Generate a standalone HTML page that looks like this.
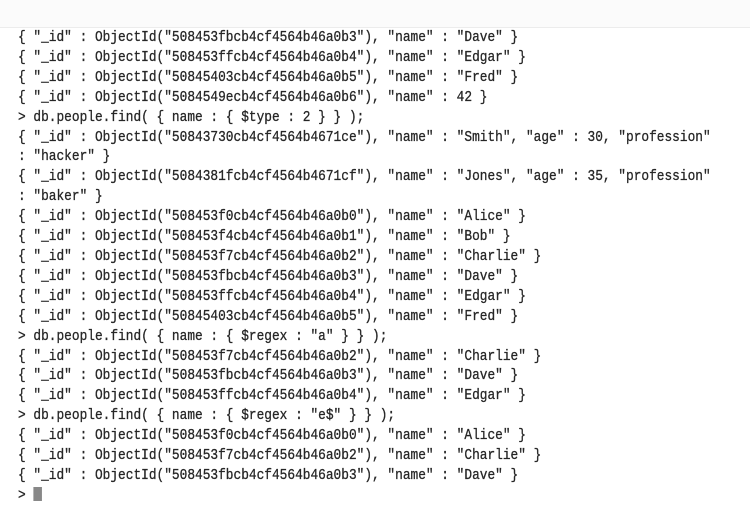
<!DOCTYPE html>
<html><head><style>
html,body{margin:0;padding:0;background:#fff;width:750px;height:530px;overflow:hidden;position:relative}
.top{position:absolute;left:0;top:0;width:750px;height:27px;background:#fbfbfb;border-bottom:1px solid #ececec}
pre{position:absolute;left:18px;top:28px;margin:0;font-family:"Liberation Mono",monospace;font-size:15px;line-height:19.9px;color:#262626;transform:scaleX(0.855);transform-origin:0 0;white-space:pre;-webkit-text-stroke:0.3px #262626}
.cur{display:inline-block;width:10px;height:14px;background:#888;vertical-align:-2px}
</style></head><body>
<div class="top"></div>
<pre>{ "_id" : ObjectId("508453fbcb4cf4564b46a0b3"), "name" : "Dave" }
{ "_id" : ObjectId("508453ffcb4cf4564b46a0b4"), "name" : "Edgar" }
{ "_id" : ObjectId("50845403cb4cf4564b46a0b5"), "name" : "Fred" }
{ "_id" : ObjectId("5084549ecb4cf4564b46a0b6"), "name" : 42 }
&gt; db.people.find( { name : { $type : 2 } } );
{ "_id" : ObjectId("50843730cb4cf4564b4671ce"), "name" : "Smith", "age" : 30, "profession"
: "hacker" }
{ "_id" : ObjectId("5084381fcb4cf4564b4671cf"), "name" : "Jones", "age" : 35, "profession"
: "baker" }
{ "_id" : ObjectId("508453f0cb4cf4564b46a0b0"), "name" : "Alice" }
{ "_id" : ObjectId("508453f4cb4cf4564b46a0b1"), "name" : "Bob" }
{ "_id" : ObjectId("508453f7cb4cf4564b46a0b2"), "name" : "Charlie" }
{ "_id" : ObjectId("508453fbcb4cf4564b46a0b3"), "name" : "Dave" }
{ "_id" : ObjectId("508453ffcb4cf4564b46a0b4"), "name" : "Edgar" }
{ "_id" : ObjectId("50845403cb4cf4564b46a0b5"), "name" : "Fred" }
&gt; db.people.find( { name : { $regex : "a" } } );
{ "_id" : ObjectId("508453f7cb4cf4564b46a0b2"), "name" : "Charlie" }
{ "_id" : ObjectId("508453fbcb4cf4564b46a0b3"), "name" : "Dave" }
{ "_id" : ObjectId("508453ffcb4cf4564b46a0b4"), "name" : "Edgar" }
&gt; db.people.find( { name : { $regex : "e$" } } );
{ "_id" : ObjectId("508453f0cb4cf4564b46a0b0"), "name" : "Alice" }
{ "_id" : ObjectId("508453f7cb4cf4564b46a0b2"), "name" : "Charlie" }
{ "_id" : ObjectId("508453fbcb4cf4564b46a0b3"), "name" : "Dave" }
&gt; <span class="cur"></span></pre>
</body></html>
